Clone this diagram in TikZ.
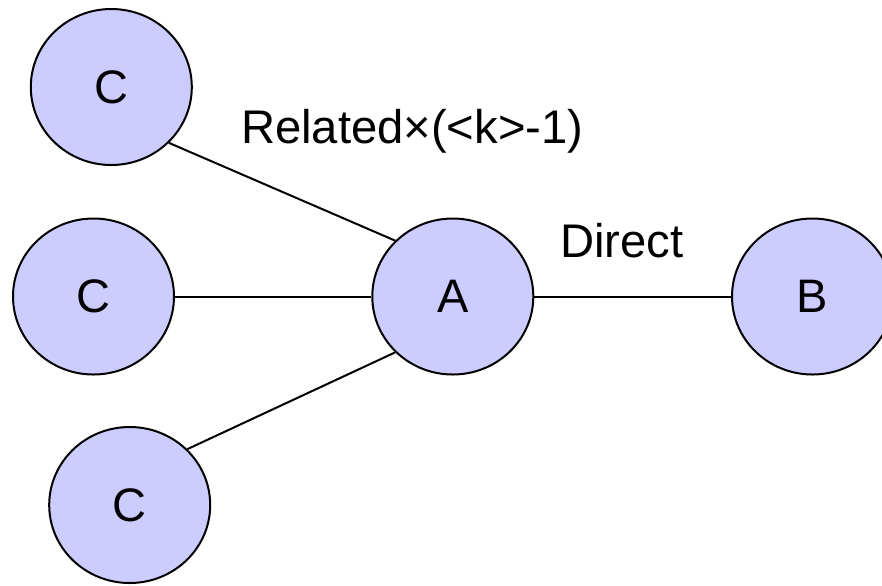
\documentclass[tikz,border=0pt]{standalone}
\usepackage{fontspec}
\setmainfont{Liberation Sans}
\usetikzlibrary{shapes.geometric}
\definecolor{peerfill}{HTML}{CCCCFF}

\begin{document}
\begin{tikzpicture}[x=0.5pt,y=-0.5pt,line width=1pt,
  peer/.style={ellipse,draw,fill=peerfill,minimum width=80.5pt,minimum height=78pt,inner sep=0pt,font=\fontsize{23.5}{28}\selectfont},
  linklabel/.style={anchor=base west,inner sep=0pt,font=\fontsize{23.6}{28}\selectfont}]
\clip (0,0) rectangle (882,585);
\node[peer] (ctop) at (111.3,87) {C};
\node[peer] (cmid) at (93.5,296.5) {C};
\node[peer] (cbot) at (129.7,505) {C};
\node[peer] (a) at (452.8,296.5) {A};
\node[peer] (b) at (812.5,296.5) {B};
\draw (ctop.south east) -- (a.north west);
\draw (cmid.east) -- (a.west);
\draw (cbot.north east) -- (a.south west);
\draw (a.east) -- (b.west);
\node[linklabel] (related) at (240,143) {Related×(<k>-1)};
\node[linklabel] (direct) at (559,257) {Direct};
\end{tikzpicture}
\end{document}
